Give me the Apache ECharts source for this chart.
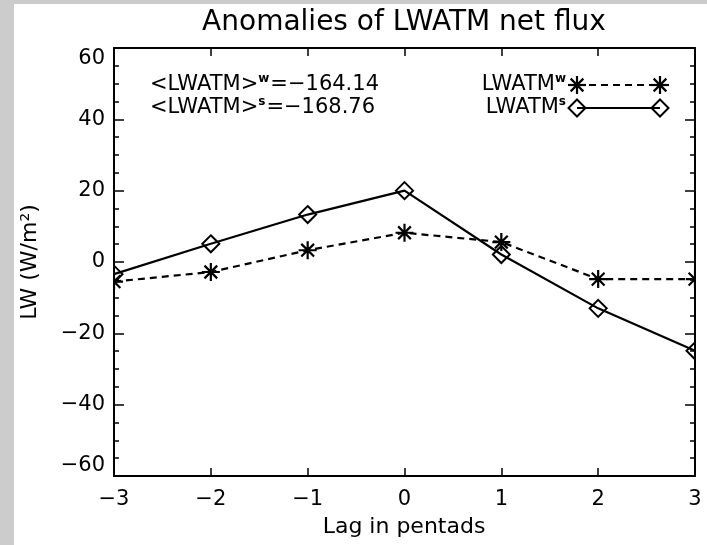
<!DOCTYPE html>
<html>
<head>
<meta charset="utf-8">
<script src="https://cdn.jsdelivr.net/npm/echarts@6/dist/echarts.min.js"></script>
<style>
  html, body { margin: 0; padding: 0; background: #ffffff; }
  #chart { width: 707px; height: 545px; }
</style>
</head>
<body>
<div id="chart"></div>
<script>
// Lag (pentads) and net long-wave atmospheric flux anomalies (W/m^2)
const lags = [-3, -2, -1, 0, 1, 2, 3];
const lwatmWinter = [-5.5, -2.8, 3.3, 8.2, 5.6, -4.8, -4.8];
const lwatmSummer = [-3.4, 5.1, 13.3, 20.0, 2.1, -13.0, -24.9];
const meanWinter = '−164.14';
const meanSummer = '−168.76';

const FONT = 'DejaVu Sans';
const minus = v => (v < 0 ? '−' + Math.abs(v) : String(v));
const pairs = ys => lags.map((x, i) => [x, ys[i]]);

// asterisk: a plus overlaid with a cross
const STAR = 'path://M0,-10L0,10M-10,0L10,0M-7.07,-7.07L7.07,7.07M-7.07,7.07L7.07,-7.07';

const chart = echarts.init(document.getElementById('chart'), null, { renderer: 'canvas' });

const axisLine = { show: true, onZero: false, lineStyle: { color: '#000', width: 2 } };
const labelStyle = { color: '#000', fontFamily: FONT, fontSize: 21 };

// superscript styling for rich text
const supRich = {
  b: { fontFamily: FONT, fontSize: 21, lineHeight: 24, fill: '#000' },
  s: { fontFamily: FONT, fontSize: 12, lineHeight: 15, fontWeight: 'bold', fill: '#000',
       verticalAlign: 'top', padding: [0, 1, 0, 0] }
};

function starGraphic(cx, cy, r) {
  const d = r * 0.707;
  const seg = (x1, y1, x2, y2) => ({
    type: 'line', shape: { x1: cx + x1, y1: cy + y1, x2: cx + x2, y2: cy + y2 },
    style: { stroke: '#000', lineWidth: 2.2 }, z: 20
  });
  return [seg(0, -r, 0, r), seg(-r, 0, r, 0), seg(-d, -d, d, d), seg(-d, d, d, -d)];
}
function diamondGraphic(cx, cy, r) {
  return {
    type: 'polygon', z: 20,
    shape: { points: [[cx, cy - r], [cx + r, cy], [cx, cy + r], [cx - r, cy]] },
    style: { fill: 'none', stroke: '#000', lineWidth: 2 }
  };
}
function richText(x, y, text, align) {
  return { type: 'text', x, y, z: 10,
    style: { text, rich: supRich, font: '21px "' + FONT + '"', fill: '#000',
             align, verticalAlign: 'middle' } };
}

const legendY1 = 85, legendY2 = 108;
const legendX1 = 577, legendX2 = 660;

const graphics = [
  // frame strips
  { type: 'rect', shape: { x: 0, y: 0, width: 14, height: 545 }, style: { fill: '#cccccc' }, z: 0 },
  { type: 'rect', shape: { x: 0, y: 0, width: 707, height: 4 }, style: { fill: '#cccccc' }, z: 0 },
  // symbols are clipped to the plotting window
  { type: 'rect', shape: { x: 104, y: 40, width: 9, height: 445 }, style: { fill: '#ffffff' }, z: 50 },
  { type: 'rect', shape: { x: 696, y: 40, width: 11, height: 445 }, style: { fill: '#ffffff' }, z: 50 },
  // title
  { type: 'text', x: 404, y: 23, z: 10,
    style: { text: 'Anomalies of LWATM net flux', font: '28px "' + FONT + '"', fill: '#000',
             align: 'center', verticalAlign: 'middle' } },
  // axis titles
  { type: 'text', x: 404, y: 527, z: 10,
    style: { text: 'Lag in pentads', font: '22px "' + FONT + '"', fill: '#000',
             align: 'center', verticalAlign: 'middle' } },
  { type: 'text', x: 30, y: 262, rotation: Math.PI / 2, z: 10,
    style: { text: 'LW (W/m²)', font: '22px "' + FONT + '"', fill: '#000',
             align: 'center', verticalAlign: 'middle' } },
  // mean values
  richText(150, legendY1, '{b|<LWATM>}{s|w}{b|=' + meanWinter + '}', 'left'),
  richText(150, legendY2, '{b|<LWATM>}{s|s}{b|=' + meanSummer + '}', 'left'),
  // legend
  richText(567, legendY1, '{b|LWATM}{s|w}', 'right'),
  richText(567, legendY2, '{b|LWATM}{s|s}', 'right'),
  { type: 'line', z: 15, shape: { x1: legendX1, y1: legendY1, x2: legendX2, y2: legendY1 },
    style: { stroke: '#000', lineWidth: 2, lineDash: [7, 5] } },
  { type: 'line', z: 15, shape: { x1: legendX1, y1: legendY2, x2: legendX2, y2: legendY2 },
    style: { stroke: '#000', lineWidth: 2 } },
  ...starGraphic(legendX1, legendY1, 9),
  ...starGraphic(legendX2, legendY1, 9),
  diamondGraphic(legendX1, legendY2, 8.5),
  diamondGraphic(legendX2, legendY2, 8.5)
];

chart.setOption({
  backgroundColor: '#ffffff',
  animation: false,
  grid: { left: 114, right: 12, top: 48, bottom: 69, containLabel: false },
  xAxis: [
    { type: 'value', position: 'bottom', min: -3, max: 3, interval: 1,
      axisLine, splitLine: { show: false },
      axisTick: { show: true, inside: true, length: 8, lineStyle: { color: '#000', width: 1.5 } },
      axisLabel: Object.assign({ margin: 13, formatter: minus }, labelStyle) },
    { type: 'value', position: 'top', min: -3, max: 3, interval: 1,
      axisLine, splitLine: { show: false },
      axisTick: { show: true, inside: true, length: 8, lineStyle: { color: '#000', width: 1.5 } },
      axisLabel: { show: false } }
  ],
  yAxis: [
    { type: 'value', position: 'left', min: -60, max: 60, interval: 20,
      axisLine, splitLine: { show: false },
      axisTick: { show: true, inside: true, length: 10, lineStyle: { color: '#000', width: 1.5 } },
      minorTick: { show: true, splitNumber: 4, length: 5, lineStyle: { color: '#000', width: 1.5 } },
      axisLabel: Object.assign({ margin: 9, formatter: minus,
        verticalAlignMaxLabel: 'top', verticalAlignMinLabel: 'bottom' }, labelStyle) },
    { type: 'value', position: 'right', min: -60, max: 60, interval: 20,
      axisLine, splitLine: { show: false },
      axisTick: { show: true, inside: true, length: 10, lineStyle: { color: '#000', width: 1.5 } },
      minorTick: { show: true, splitNumber: 4, length: 5, lineStyle: { color: '#000', width: 1.5 } },
      axisLabel: { show: false } }
  ],
  series: [
    { name: 'LWATMʷ', type: 'line', data: pairs(lwatmWinter), z: 5,
      symbol: STAR, symbolSize: [18, 18], symbolKeepAspect: true,
      lineStyle: { color: '#000', width: 2.2, type: [7, 5] },
      itemStyle: { color: 'rgba(0,0,0,0)', borderColor: '#000', borderWidth: 2.2 } },
    { name: 'LWATMˢ', type: 'line', data: pairs(lwatmSummer), z: 5,
      symbol: 'diamond', symbolSize: [17, 17],
      lineStyle: { color: '#000', width: 2.2 },
      itemStyle: { color: 'rgba(0,0,0,0)', borderColor: '#000', borderWidth: 2 } }
  ],
  graphic: graphics
});
</script>
</body>
</html>
